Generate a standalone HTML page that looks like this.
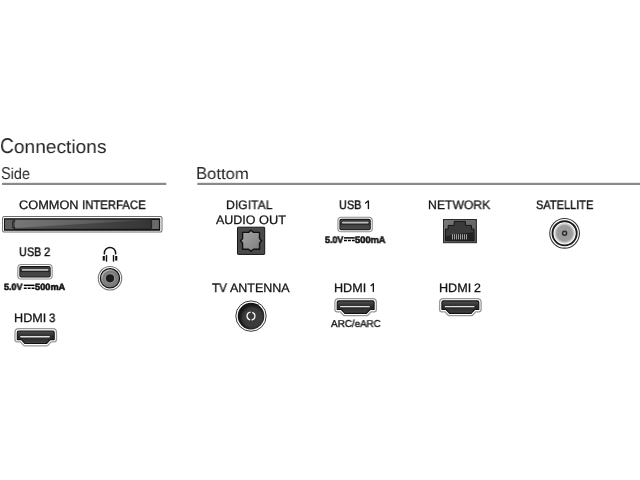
<!DOCTYPE html>
<html><head><meta charset="utf-8"><style>
html,body{margin:0;padding:0;background:#fff;width:640px;height:480px;overflow:hidden}
body{position:relative}
.t{position:absolute;white-space:nowrap;font-family:"Liberation Sans",sans-serif;color:#141414;transform-origin:0 0;will-change:transform;text-rendering:geometricPrecision;-webkit-text-stroke:0.25px #141414}
.t.c{color:#2a2a2a}
</style></head><body>
<svg width="640" height="480" viewBox="0 0 640 480" style="position:absolute;left:0;top:0">
<defs>
<linearGradient id="gUsb" x1="0" y1="0" x2="0" y2="1"><stop offset="0" stop-color="#3a3a3a"/><stop offset="1" stop-color="#4a4a4a"/></linearGradient>
<linearGradient id="gHdmi" x1="0" y1="0" x2="0" y2="1"><stop offset="0" stop-color="#555"/><stop offset="0.25" stop-color="#3a3a3a"/><stop offset="0.5" stop-color="#262626"/><stop offset="0.6" stop-color="#2c2c2c"/><stop offset="1" stop-color="#454545"/></linearGradient>
<linearGradient id="gSlot" x1="0" y1="0" x2="1" y2="0"><stop offset="0" stop-color="#5a5a5a"/><stop offset="1" stop-color="#353535"/></linearGradient>
<linearGradient id="gSlotHi" x1="0" y1="0" x2="1" y2="0"><stop offset="0" stop-color="#777"/><stop offset="0.6" stop-color="#5c5c5c"/><stop offset="1" stop-color="#3e3e3e"/></linearGradient>
<radialGradient id="gJack" cx="0.5" cy="0.5" r="0.5"><stop offset="0.42" stop-color="#9a9a9a"/><stop offset="0.62" stop-color="#7c7c7c"/><stop offset="1" stop-color="#777"/></radialGradient>
<linearGradient id="gJackHi" x1="0" y1="0" x2="1" y2="1"><stop offset="0" stop-color="#e8e8e8"/><stop offset="0.5" stop-color="#999" stop-opacity="0.3"/><stop offset="1" stop-color="#777" stop-opacity="0"/></linearGradient>
<linearGradient id="gTos" x1="0" y1="0" x2="1" y2="1"><stop offset="0" stop-color="#a8a8a8"/><stop offset="1" stop-color="#7c7c7c"/></linearGradient>
<linearGradient id="gRj" x1="0" y1="0" x2="1" y2="1"><stop offset="0" stop-color="#7a7a7a"/><stop offset="1" stop-color="#555"/></linearGradient>
<radialGradient id="gSat" cx="0.5" cy="0.5" r="0.5"><stop offset="0" stop-color="#999"/><stop offset="0.72" stop-color="#9c9c9c"/><stop offset="0.9" stop-color="#d0d0d0"/><stop offset="1" stop-color="#f4f4f4"/></radialGradient>
<radialGradient id="gAnt" cx="0.65" cy="0.65" r="0.6"><stop offset="0" stop-color="#444"/><stop offset="0.7" stop-color="#383838"/><stop offset="1" stop-color="#1a1a1a"/></radialGradient>
<filter id="blur1" x="-20%" y="-20%" width="140%" height="140%"><feGaussianBlur stdDeviation="1.2"/></filter>
<clipPath id="clipAnt"><circle cx="251" cy="316.1" r="13.3"/></clipPath>
</defs>
<rect x="2" y="182.8" width="164.3" height="2.2" fill="#8a8a8a"/>
<rect x="197.3" y="182.8" width="442.7" height="2.2" fill="#8a8a8a"/>
<!-- CI slot -->
<rect x="2.1" y="216.0" width="160.4" height="16.6" rx="2.2" fill="#6e6e6e"/>
<rect x="3.1" y="217.0" width="158.4" height="14.6" rx="1.4" fill="#fff"/>
<rect x="4.0" y="218.2" width="156.2" height="12.6" fill="#141414"/>
<rect x="14.6" y="219.7" width="136.8" height="9.1" fill="url(#gSlot)"/>
<path d="M14.6 219.7 H151.4 L14.6 228.0 Z" fill="url(#gSlotHi)"/>
<rect x="5.0" y="219.6" width="9.3" height="9.6" fill="#5e5e5e"/>
<path d="M15.2 221.0 H12.9 V227.9 H15.2" fill="none" stroke="#111" stroke-width="1"/>
<rect x="151.4" y="220.0" width="7.5" height="9.0" fill="#6a6a6a"/>
<path d="M149.8 221.0 H151.6 V227.9 H149.8" fill="none" stroke="#1a1a1a" stroke-width="0.9"/>
<g transform="translate(17.3,264.0)">
<rect x="0" y="0" width="35.4" height="15.6" rx="3.8" fill="#8e8e8e"/>
<rect x="1.1" y="1.1" width="33.2" height="13.4" rx="2.8" fill="#fff"/>
<rect x="2.0" y="2.0" width="31.4" height="11.6" rx="2.0" fill="#141414"/>
<rect x="3.0" y="3.0" width="29.4" height="9.6" rx="0.8" fill="url(#gUsb)"/>
<rect x="3.0" y="6.6" width="29.4" height="1.4" fill="#222"/>
<rect x="4.6" y="5.0" width="26.5" height="1.7" rx="0.6" fill="#bdbdbd"/>
</g>
<g transform="translate(337.4,216.7)">
<rect x="0" y="0" width="35.4" height="15.6" rx="3.8" fill="#8e8e8e"/>
<rect x="1.1" y="1.1" width="33.2" height="13.4" rx="2.8" fill="#fff"/>
<rect x="2.0" y="2.0" width="31.4" height="11.6" rx="2.0" fill="#141414"/>
<rect x="3.0" y="3.0" width="29.4" height="9.6" rx="0.8" fill="url(#gUsb)"/>
<rect x="3.0" y="6.6" width="29.4" height="1.4" fill="#222"/>
<rect x="4.6" y="5.0" width="26.5" height="1.7" rx="0.6" fill="#bdbdbd"/>
</g>
<g transform="translate(14.3,328.6)">
<path d="M4.4 2.4 H38.5 Q39.9 2.4 39.9 3.8 V11 H35.85 L32.2 14.9 H10.7 L7.05 11 H3 V3.8 Q3 2.4 4.4 2.4 Z" fill="#999" stroke="#999" stroke-width="5.9" stroke-linejoin="round"/>
<path d="M4.4 2.4 H38.5 Q39.9 2.4 39.9 3.8 V11 H35.85 L32.2 14.9 H10.7 L7.05 11 H3 V3.8 Q3 2.4 4.4 2.4 Z" fill="#fff" stroke="#fff" stroke-width="3.3" stroke-linejoin="round"/>
<path d="M4.4 2.4 H38.5 Q39.9 2.4 39.9 3.8 V11 H35.85 L32.2 14.9 H10.7 L7.05 11 H3 V3.8 Q3 2.4 4.4 2.4 Z" fill="url(#gHdmi)" stroke="#121212" stroke-width="1.1" stroke-linejoin="round"/>
<rect x="5.8" y="7.45" width="29.8" height="1.35" rx="0.6" fill="#e0e0e0"/>
</g>
<g transform="translate(334.2,298.5)">
<path d="M4.4 2.4 H38.5 Q39.9 2.4 39.9 3.8 V11 H35.85 L32.2 14.9 H10.7 L7.05 11 H3 V3.8 Q3 2.4 4.4 2.4 Z" fill="#999" stroke="#999" stroke-width="5.9" stroke-linejoin="round"/>
<path d="M4.4 2.4 H38.5 Q39.9 2.4 39.9 3.8 V11 H35.85 L32.2 14.9 H10.7 L7.05 11 H3 V3.8 Q3 2.4 4.4 2.4 Z" fill="#fff" stroke="#fff" stroke-width="3.3" stroke-linejoin="round"/>
<path d="M4.4 2.4 H38.5 Q39.9 2.4 39.9 3.8 V11 H35.85 L32.2 14.9 H10.7 L7.05 11 H3 V3.8 Q3 2.4 4.4 2.4 Z" fill="url(#gHdmi)" stroke="#121212" stroke-width="1.1" stroke-linejoin="round"/>
<rect x="5.8" y="7.45" width="29.8" height="1.35" rx="0.6" fill="#e0e0e0"/>
</g>
<g transform="translate(438.9,298.5)">
<path d="M4.4 2.4 H38.5 Q39.9 2.4 39.9 3.8 V11 H35.85 L32.2 14.9 H10.7 L7.05 11 H3 V3.8 Q3 2.4 4.4 2.4 Z" fill="#999" stroke="#999" stroke-width="5.9" stroke-linejoin="round"/>
<path d="M4.4 2.4 H38.5 Q39.9 2.4 39.9 3.8 V11 H35.85 L32.2 14.9 H10.7 L7.05 11 H3 V3.8 Q3 2.4 4.4 2.4 Z" fill="#fff" stroke="#fff" stroke-width="3.3" stroke-linejoin="round"/>
<path d="M4.4 2.4 H38.5 Q39.9 2.4 39.9 3.8 V11 H35.85 L32.2 14.9 H10.7 L7.05 11 H3 V3.8 Q3 2.4 4.4 2.4 Z" fill="url(#gHdmi)" stroke="#121212" stroke-width="1.1" stroke-linejoin="round"/>
<rect x="5.8" y="7.45" width="29.8" height="1.35" rx="0.6" fill="#e0e0e0"/>
</g>
<!-- headphone -->
<path d="M104.4 254.6 V253 A5.6 5.6 0 0 1 115.6 253 V254.6" fill="none" stroke="#111" stroke-width="1.5"/>
<rect x="102.7" y="256" width="2.1" height="4.6" fill="#111"/>
<rect x="115.2" y="256" width="2.1" height="4.6" fill="#111"/>
<rect x="105.8" y="255" width="1.4" height="6.7" rx="0.6" fill="#111"/>
<rect x="112.8" y="255" width="1.4" height="6.7" rx="0.6" fill="#111"/>
<!-- jack -->
<circle cx="110" cy="278.3" r="11.75" fill="#fff" stroke="#7a7a7a" stroke-width="1.1"/>
<circle cx="110" cy="278.3" r="9.6" fill="url(#gJack)" stroke="#141414" stroke-width="1.3"/>
<circle cx="110" cy="278.3" r="8.3" fill="none" stroke="url(#gJackHi)" stroke-width="1.3"/>
<circle cx="110" cy="278.3" r="4.1" fill="#1c1c1c"/>
<!-- toslink -->
<rect x="237.5" y="227.2" width="27.2" height="27.2" rx="0.6" fill="#4a4a4a" stroke="#151515" stroke-width="1"/>
<path d="M242.6 232.4 H248.5 L251 230.3 L253.5 232.4 H259.5 V238.5 L261.5 240.8 L259.5 243.1 V249.2 H253.5 L251 251.2 L248.5 249.2 H242.6 V243.1 L240.6 240.8 L242.6 238.5 Z" fill="url(#gTos)" stroke="#111" stroke-width="1.4" stroke-linejoin="round"/>
<!-- rj45 -->
<rect x="443.5" y="219.5" width="32.9" height="23.2" fill="url(#gRj)" stroke="#2a2a2a" stroke-width="1"/>
<path d="M454.2 221.4 H465.4 V225.4 H471.4 V229.1 H474 V240.7 H445.5 V229.1 H448.2 V225.4 H454.2 Z" fill="#3a3a3a" stroke="#161616" stroke-width="1"/>
<path d="M446 240.2 V236 Q458 233.5 473.5 232.2 V240.2 Z" fill="#222"/>
<rect x="452.0" y="234.2" width="0.9" height="5.2" fill="#acacac"/><rect x="454.0" y="234.2" width="0.9" height="5.2" fill="#acacac"/><rect x="456.0" y="234.2" width="0.9" height="5.2" fill="#acacac"/><rect x="458.0" y="234.2" width="0.9" height="5.2" fill="#acacac"/><rect x="460.0" y="234.2" width="0.9" height="5.2" fill="#acacac"/><rect x="462.0" y="234.2" width="0.9" height="5.2" fill="#acacac"/><rect x="464.0" y="234.2" width="0.9" height="5.2" fill="#acacac"/><rect x="466.0" y="234.2" width="0.9" height="5.2" fill="#acacac"/>
<!-- satellite -->
<circle cx="564.6" cy="233.3" r="14.85" fill="#fff" stroke="#3a3a3a" stroke-width="1.1"/>
<circle cx="564.6" cy="233.3" r="12.1" fill="#fff" stroke="#1c1c1c" stroke-width="1.9"/>
<circle cx="564.6" cy="233.3" r="10.6" fill="url(#gSat)"/>
<circle cx="564.6" cy="233.3" r="2.1" fill="#7a7a7a" stroke="#2a2a2a" stroke-width="1.3"/>
<circle cx="564.6" cy="233.3" r="0.6" fill="#ccc"/>
<!-- antenna -->
<circle cx="251" cy="316.1" r="15.2" fill="#fff" stroke="#3a3a3a" stroke-width="1"/>
<circle cx="251" cy="316.1" r="13.3" fill="#161616"/>
<circle cx="252.6" cy="317.6" r="11.2" fill="#3a3a3a" filter="url(#blur1)" clip-path="url(#clipAnt)"/>
<circle cx="251" cy="316.1" r="3.95" fill="none" stroke="#f2f2f2" stroke-width="1.35" stroke-dasharray="10.81 1.6" stroke-dashoffset="5.4"/>
<!-- ones -->
<path d="M365.6 203.1 L368.2 201.1" stroke="#141414" stroke-width="1.3" stroke-linecap="round"/>
<path d="M368.4 200.7 V209.1" stroke="#141414" stroke-width="1.35"/>
<path d="M371.1 285.6 L373.2 283.9" stroke="#141414" stroke-width="1.3" stroke-linecap="round"/>
<path d="M373.35 283.4 V291.9" stroke="#141414" stroke-width="1.35"/>
<!-- DC symbols -->
<rect x="23.8" y="284.6" width="10.7" height="1.45" fill="#000"/>
<path d="M23.8 288.2 H34.5" stroke="#000" stroke-width="1.35" stroke-dasharray="2.9 1.0"/>
<rect x="344" y="237.15" width="10.8" height="1.45" fill="#000"/>
<path d="M344 240.5 H354.8" stroke="#000" stroke-width="1.35" stroke-dasharray="2.9 1.05"/>
</svg>
<div class="t" style="left:0.14px;top:136.26px;font-size:21.35px;line-height:21.35px;font-weight:400;transform:scale(0.8975,1.0000);color:#262626;-webkit-text-stroke:0">C<span style="display:inline-block;transform:scaleY(0.87);transform-origin:0 18.14px">onnections</span></div><div class="t" style="left:1.03px;top:165.07px;font-size:17.33px;line-height:17.33px;font-weight:400;transform:scale(0.8352,1.0000);color:#262626;-webkit-text-stroke:0">S<span style="display:inline-block;transform:scaleY(0.9);transform-origin:0 14.73px">ide</span></div><div class="t" style="left:196.17px;top:165.07px;font-size:17.33px;line-height:17.33px;font-weight:400;transform:scale(0.9609,1.0000);color:#262626;-webkit-text-stroke:0">B<span style="display:inline-block;transform:scaleY(0.9);transform-origin:0 14.73px">ottom</span></div><div class="t" style="left:19.36px;top:199.13px;font-size:12.32px;line-height:12.32px;font-weight:400;transform:scale(1.0371,1.0000);-webkit-text-stroke:0.28px #141414">COMMON</div><div class="t" style="left:81.98px;top:199.13px;font-size:12.32px;line-height:12.32px;font-weight:400;transform:scale(0.9214,1.0000);-webkit-text-stroke:0.38px #141414">INTERFACE</div><div class="t" style="left:18.93px;top:245.83px;font-size:12.32px;line-height:12.32px;font-weight:400;transform:scale(0.8836,1.0000);-webkit-text-stroke:0.43px #141414">USB</div><div class="t" style="left:44.33px;top:245.83px;font-size:12.32px;line-height:12.32px;font-weight:400;transform:scale(0.9176,1.0000);-webkit-text-stroke:0.39px #141414">2</div><div class="t" style="left:14.09px;top:311.83px;font-size:12.32px;line-height:12.32px;font-weight:400;transform:scale(1.0266,1.0000);-webkit-text-stroke:0.28px #141414">HDMI</div><div class="t" style="left:49.18px;top:311.83px;font-size:12.32px;line-height:12.32px;font-weight:400;transform:scale(0.9200,1.0000);-webkit-text-stroke:0.38px #141414">3</div><div class="t" style="left:225.93px;top:199.13px;font-size:12.32px;line-height:12.32px;font-weight:400;transform:scale(0.9873,1.0000);-webkit-text-stroke:0.30px #141414">DIGITAL</div><div class="t" style="left:216.30px;top:214.03px;font-size:12.32px;line-height:12.32px;font-weight:400;transform:scale(1.0121,1.0000);-webkit-text-stroke:0.28px #141414">AUDIO</div><div class="t" style="left:259.26px;top:214.03px;font-size:12.32px;line-height:12.32px;font-weight:400;transform:scale(1.0386,1.0000);-webkit-text-stroke:0.28px #141414">OUT</div><div class="t" style="left:339.12px;top:199.13px;font-size:12.32px;line-height:12.32px;font-weight:400;transform:scale(0.8879,1.0000);-webkit-text-stroke:0.43px #141414">USB</div><div class="t" style="left:428.42px;top:199.13px;font-size:12.32px;line-height:12.32px;font-weight:400;transform:scale(0.9896,1.0000);-webkit-text-stroke:0.29px #141414">NETWORK</div><div class="t" style="left:535.70px;top:199.13px;font-size:12.32px;line-height:12.32px;font-weight:400;transform:scale(0.8936,1.0000);-webkit-text-stroke:0.42px #141414">SATELLITE</div><div class="t" style="left:212.07px;top:281.93px;font-size:12.32px;line-height:12.32px;font-weight:400;transform:scale(0.9481,1.0000);-webkit-text-stroke:0.35px #141414">TV</div><div class="t" style="left:229.70px;top:281.93px;font-size:12.32px;line-height:12.32px;font-weight:400;transform:scale(1.0139,1.0000);-webkit-text-stroke:0.28px #141414">ANTENNA</div><div class="t" style="left:334.24px;top:281.93px;font-size:12.32px;line-height:12.32px;font-weight:400;transform:scale(1.0249,1.0000);-webkit-text-stroke:0.28px #141414">HDMI</div><div class="t" style="left:330.60px;top:319.90px;font-size:10.00px;line-height:10.00px;font-weight:400;transform:scale(0.9860,1.0000);-webkit-text-stroke:0.38px #141414">ARC/eARC</div><div class="t" style="left:438.99px;top:281.93px;font-size:12.32px;line-height:12.32px;font-weight:400;transform:scale(1.0232,1.0000);-webkit-text-stroke:0.28px #141414">HDMI</div><div class="t" style="left:473.78px;top:281.93px;font-size:12.32px;line-height:12.32px;font-weight:400;transform:scale(1.0059,1.0000);-webkit-text-stroke:0.28px #141414">2</div><div class="t" style="left:4.38px;top:282.74px;font-size:9.13px;line-height:9.13px;font-weight:700;transform:scale(0.9787,1.0000);-webkit-text-stroke:0.55px #141414">5.0V</div><div class="t" style="left:34.72px;top:282.74px;font-size:9.13px;line-height:9.13px;font-weight:700;transform:scale(1.0102,1.0000);-webkit-text-stroke:0.55px #141414">500mA</div><div class="t" style="left:324.63px;top:235.09px;font-size:9.42px;line-height:9.42px;font-weight:700;transform:scale(0.9512,1.0000);-webkit-text-stroke:0.55px #141414">5.0V</div><div class="t" style="left:355.02px;top:235.09px;font-size:9.42px;line-height:9.42px;font-weight:700;transform:scale(0.9874,1.0000);-webkit-text-stroke:0.55px #141414">500mA</div>
</body></html>
